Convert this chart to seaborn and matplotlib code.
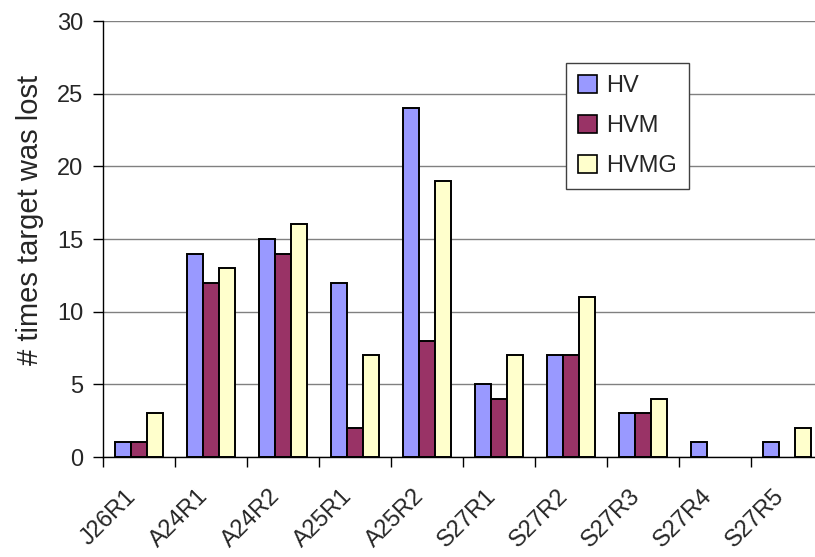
import matplotlib
matplotlib.use("Agg")
import matplotlib.pyplot as plt
import matplotlib.transforms as mtransforms
from matplotlib.patches import Patch
import numpy as np
import pandas as pd
import seaborn as sns

# data
runs = ["J26R1", "A24R1", "A24R2", "A25R1", "A25R2",
        "S27R1", "S27R2", "S27R3", "S27R4", "S27R5"]
hv = [1, 14, 15, 12, 24, 5, 7, 3, 1, 1]
hvm = [1, 12, 14, 2, 8, 4, 7, 3, 0, 0]
hvmg = [3, 13, 16, 7, 19, 7, 11, 4, 0, 2]
series = ["HV", "HVM", "HVMG"]
colors = ["#9999FF", "#993366", "#FFFFCC"]

df = pd.DataFrame({
    "run": runs * 3,
    "count": hv + hvm + hvmg,
    "method": [s for s in series for _ in runs],
})

sns.set_style("white")
plt.rcParams["font.family"] = ["Liberation Sans", "DejaVu Sans"]

fig = plt.figure(figsize=(8.15, 5.57), dpi=100)
ax = fig.add_axes([103 / 815, 1 - 457 / 557, 720 / 815, 436 / 557])

sns.barplot(data=df, x="run", y="count", hue="method", palette=colors,
            width=0.67, edgecolor="black", linewidth=1.4, ax=ax,
            saturation=1, legend=False)

# Excel draws nothing for zero values
for p in ax.patches:
    if p.get_height() == 0:
        p.set_visible(False)

ax.set_ylim(0, 30)
ax.set_xlim(-0.5, 9.5)
ax.set_yticks(np.arange(0, 31, 5))
ax.yaxis.grid(True, color="#808080", linewidth=1.0)
ax.set_axisbelow(True)
for s in ["top", "right"]:
    ax.spines[s].set_visible(False)
for s in ["left", "bottom"]:
    ax.spines[s].set_color("black")
    ax.spines[s].set_linewidth(1.0)

ax.set_xlabel("")
ax.set_ylabel("# times target was lost", fontsize=21)
ax.yaxis.set_label_coords((44 - 103) / 720, (457 - 220) / 436)
ax.tick_params(axis="y", which="major", direction="out", length=7,
               width=1, color="black", labelsize=17, left=True, pad=7)

ax.set_xticks(np.arange(len(runs)))
ax.set_xticks(np.arange(-0.5, len(runs), 1), minor=True)
ax.tick_params(axis="x", which="major", length=0, labelsize=17, pad=6)
ax.tick_params(axis="x", which="minor", direction="out", length=7,
               width=1, color="black", bottom=True)
offset = mtransforms.ScaledTranslation(-14 / 100, -20 / 100, fig.dpi_scale_trans)
for lbl in ax.get_xticklabels():
    lbl.set_rotation(45)
    lbl.set_ha("right")
    lbl.set_va("top")
    lbl.set_rotation_mode("anchor")
    lbl.set_transform(lbl.get_transform() + offset)

handles = [Patch(facecolor=c, edgecolor="black", linewidth=1.2, label=s)
           for s, c in zip(series, colors)]
leg = ax.legend(handles=handles, loc="upper left",
                bbox_to_anchor=((566 - 103) / 720, 1 - (63 - 21) / 436),
                frameon=True, fancybox=False, fontsize=17, handlelength=0.8,
                handleheight=0.8, handletextpad=0.4, labelspacing=0.75,
                borderpad=0.5, borderaxespad=0)
leg.get_frame().set_edgecolor("#404040")
leg.get_frame().set_linewidth(1.0)
leg.get_frame().set_alpha(1)

fig.savefig("out.png", dpi=100)
